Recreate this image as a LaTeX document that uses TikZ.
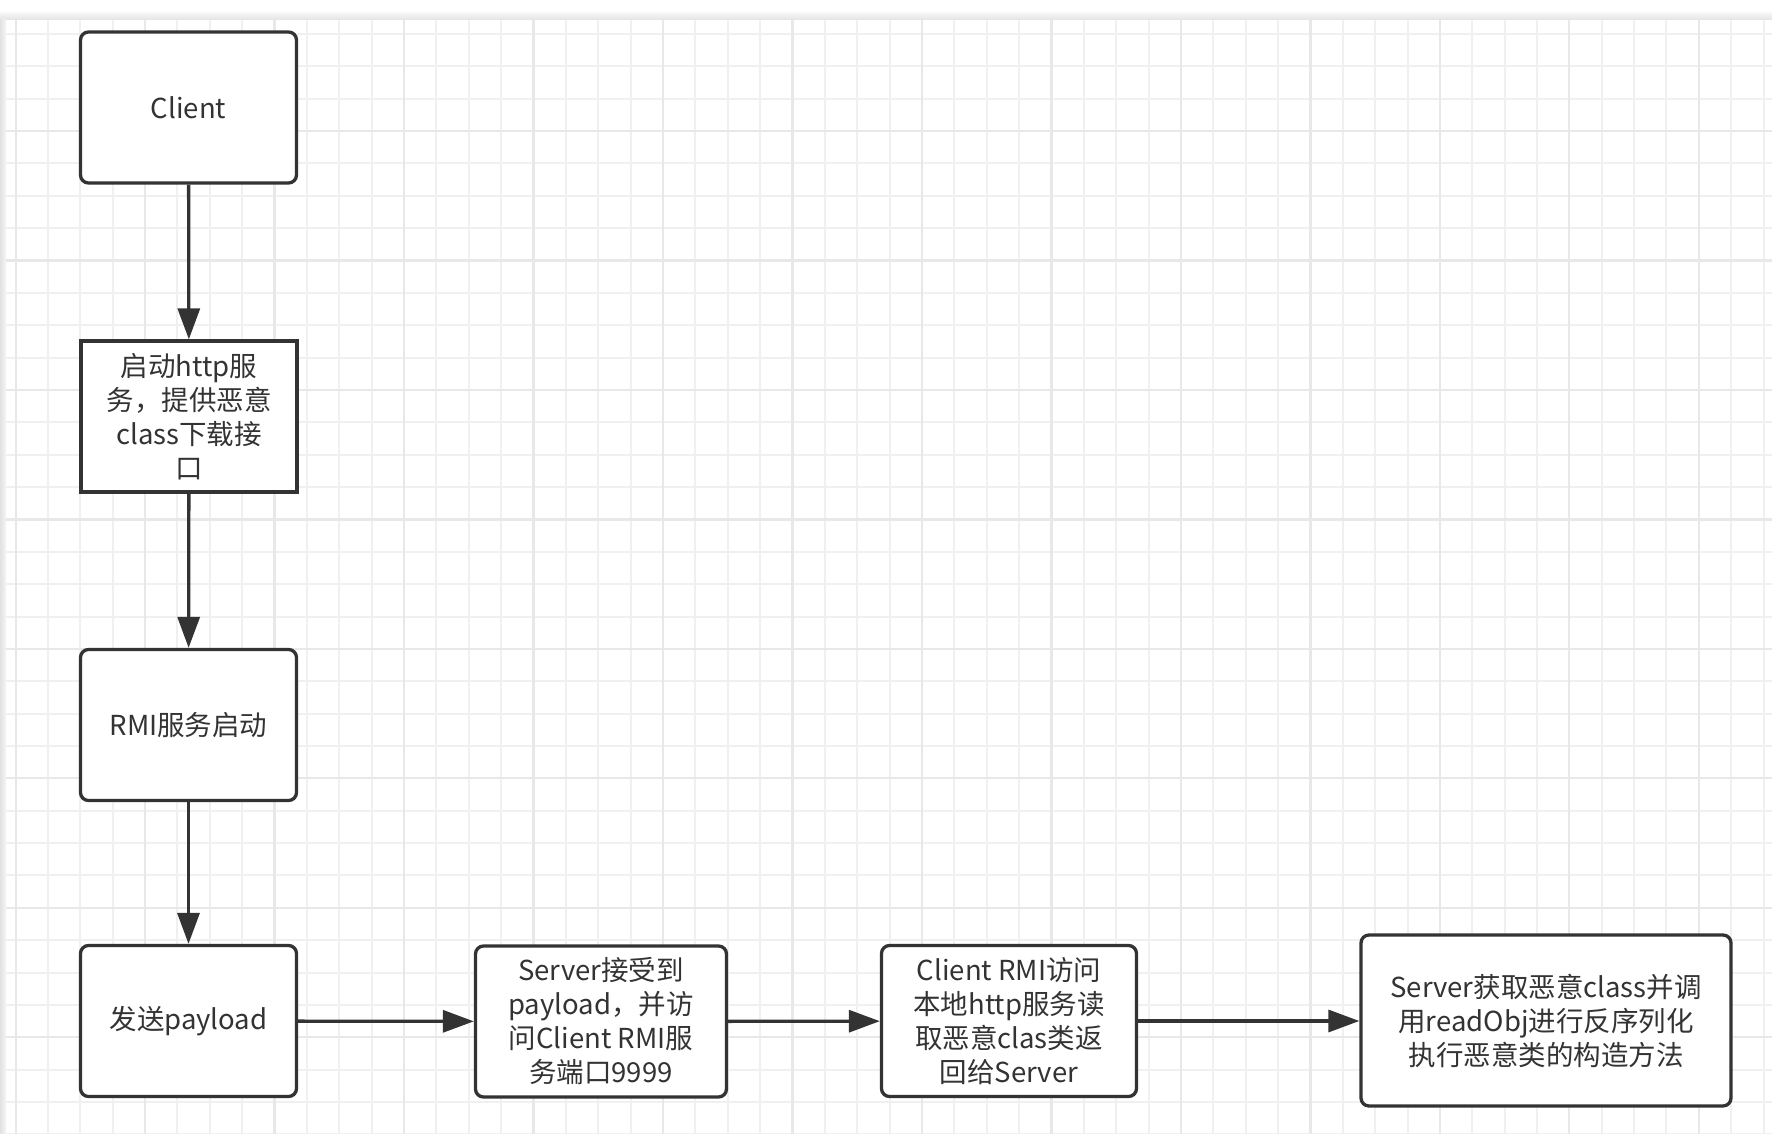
\documentclass[tikz,border=0pt]{standalone}
\usepackage{fontspec}
\newfontfamily\cjk{Noto Sans CJK SC}
\usetikzlibrary{arrows.meta}
\definecolor{dark}{HTML}{333333}
\definecolor{minorgrid}{HTML}{F0F0F0}
\definecolor{majorgrid}{HTML}{E8E8E8}
\definecolor{edgegray}{HTML}{E2E2E2}
\tikzset{
  stepbox/.style={draw=dark, line width=3.3pt, fill=white, rounded corners=8pt,
    minimum width=216pt, minimum height=151pt, align=center, inner sep=1pt,
    text=dark, font=\cjk\fontsize{27.5}{34}\selectfont},
  sharpbox/.style={stepbox, sharp corners},
  flow/.style={draw=dark, line width=3.3pt, -{Triangle[length=31pt,width=22pt]}},
  minorline/.style={draw=minorgrid, line width=2pt},
  majorline/.style={draw=majorgrid, line width=2.2pt}
}
\begin{document}
\begin{tikzpicture}[x=1pt,y=-1pt]
\useasboundingbox (0,0) rectangle (1772,1134);
% background and frame shadow
\fill[white] (0,0) rectangle (1772,1134);
\shade[top color=white, bottom color=edgegray] (0,10) rectangle (1772,20);
\shade[left color=edgegray, right color=white!96!black] (0,20) rectangle (6,1134);
% grid
\foreach \i in {0,...,54} {
  \draw[minorline] ({15.6+32.37*\i},20) -- ({15.6+32.37*\i},1134);
}
\foreach \i in {1,...,35} {
  \draw[minorline] (6,{1.5+32.37*\i}) -- (1772,{1.5+32.37*\i});
}
\foreach \i in {0,4,...,52} {
  \draw[majorline] ({15.6+32.37*\i},20) -- ({15.6+32.37*\i},1134);
}
\foreach \i in {4,8,...,32} {
  \draw[majorline] (6,{1.5+32.37*\i}) -- (1772,{1.5+32.37*\i});
}
% nodes
\node[stepbox] (client) at (188.5,107.5) {Client};
\node[sharpbox] (http) at (189,416.5) {启动http服\\务，提供恶意\\class下载接\\口};
\node[stepbox] (rmi) at (188.5,725) {RMI服务启动};
\node[stepbox] (send) at (188.5,1021) {发送payload};
\node[stepbox, minimum width=251pt] (server) at (601,1021.5) {Server接受到\\payload，并访\\问Client RMI服\\务端口9999};
\node[stepbox, minimum width=255pt] (crmi) at (1009,1021) {Client RMI访问\\本地http服务读\\取恶意clas类返\\回给Server};
\node[stepbox, minimum width=370pt, minimum height=171pt] (final) at (1546,1020.5) {Server获取恶意class并调\\用readObj进行反序列化\\执行恶意类的构造方法};
% connectors
\draw[flow] (client) -- (http);
\draw[flow] (http) -- (rmi);
\draw[flow] (rmi) -- (send);
\draw[flow] (send) -- (server);
\draw[flow] (server) -- (crmi);
\draw[flow] (crmi.east) -- (crmi.east -| final.west);
\end{tikzpicture}
\end{document}
